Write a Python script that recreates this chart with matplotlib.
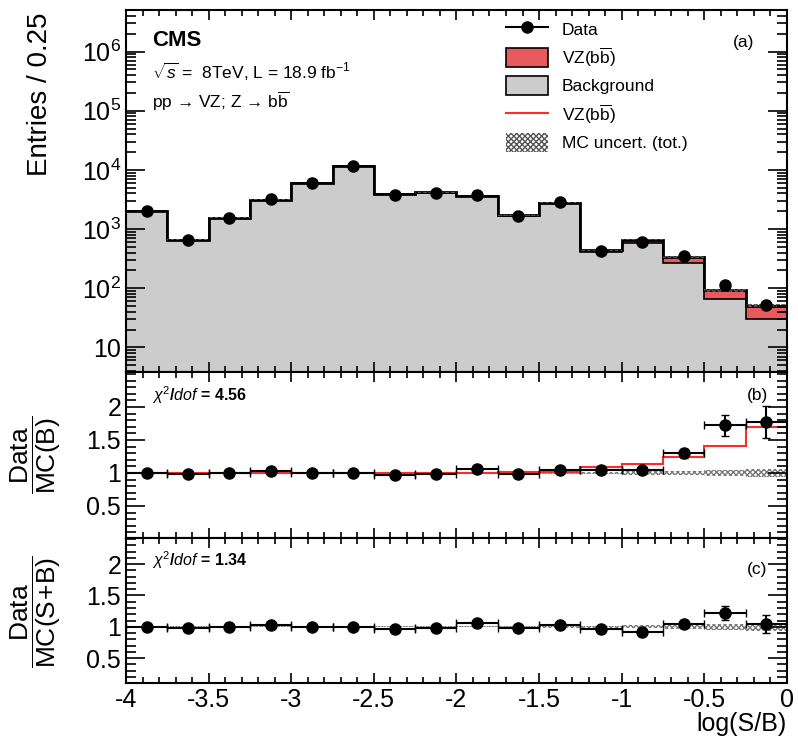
import numpy as np
import matplotlib
matplotlib.use("Agg")
import matplotlib.pyplot as plt
from matplotlib.lines import Line2D
from matplotlib.patches import Patch
from matplotlib.ticker import MultipleLocator, LogLocator, NullFormatter, FixedLocator

plt.rcParams['font.family'] = ['Liberation Sans', 'DejaVu Sans']
plt.rcParams['mathtext.fontset'] = 'custom'
plt.rcParams['mathtext.rm'] = 'Liberation Sans'
plt.rcParams['mathtext.it'] = 'Liberation Sans:italic'
plt.rcParams['mathtext.bf'] = 'Liberation Sans:bold'

# binning in log(S/B)
edges = np.arange(-4.0, 0.001, 0.25)
centers = 0.5 * (edges[:-1] + edges[1:])

# values
data = [2020, 650, 1550, 3240, 6000, 11700, 3800, 4100, 3800, 1660, 2880, 425, 605, 350, 112, 53]
background = [2020, 663, 1550, 3146, 6000, 11700, 3918, 4141, 3585, 1680, 2740, 405, 582, 270, 65, 30]
signal = [2, 1, 3, 8, 15, 35, 15, 20, 20, 17, 55, 36, 76, 65, 26.6, 21]
mc_unc = [0.01, 0.01, 0.01, 0.01, 0.01, 0.01, 0.01, 0.01, 0.01, 0.01, 0.015, 0.02, 0.025, 0.03, 0.045, 0.06]

chi2_b = "4.56"
chi2_c = "1.34"

data = np.array(data, float)
background = np.array(background, float)
signal = np.array(signal, float)
mc_unc = np.array(mc_unc)
total = background + signal
err = np.sqrt(data)

red_fill = "#e85a5e"
red_line = "#ff2a2a"
grey = "#cccccc"
bbar = r"b$\overline{\mathrm{b}}$"

fig = plt.figure(figsize=(7.98, 7.40), dpi=100)
ax = fig.add_axes([0.158, 0.497, 0.828, 0.4892])
axb = fig.add_axes([0.158, 0.273, 0.828, 0.2243], sharex=ax)
axc = fig.add_axes([0.158, 0.077, 0.828, 0.196], sharex=ax)

ymin = 3.8
# main panel: stacked background + signal
ax.stairs(background, edges, baseline=ymin, fill=True, color=grey, lw=0)
ax.stairs(total, edges, baseline=background, fill=True, color=red_fill, lw=0)
ax.stairs(background, edges, baseline=None, color="black", lw=1.2)
ax.stairs(total, edges, baseline=None, color="black", lw=2)
ax.stairs(total * (1 + mc_unc), edges, baseline=total * (1 - mc_unc), fill=True,
          facecolor="none", edgecolor="#555555", hatch="xxxxxx", lw=0)
ax.errorbar(centers, data, yerr=err, fmt="o", color="black", ms=8, lw=1.5, capsize=0)
ax.set_yscale("log")
ax.set_ylim(ymin, 5e6)
ax.set_xlim(-4, 0)
ax.yaxis.set_major_locator(LogLocator(base=10, numticks=10))
ax.yaxis.set_minor_locator(LogLocator(base=10, subs=np.arange(2, 10), numticks=20))
ax.yaxis.set_minor_formatter(NullFormatter())
ax.set_yticks([10, 100, 1e3, 1e4, 1e5, 1e6])
ax.set_yticklabels(["10", "$10^2$", "$10^3$", "$10^4$", "$10^5$", "$10^6$"])

ax.text(0.039, 0.917, "CMS", transform=ax.transAxes, fontsize=16, fontweight="bold", va="center")
ax.text(0.039, 0.829, r"$\sqrt{s}$ =  8TeV, L = 18.9 fb$^{-1}$", transform=ax.transAxes,
        fontsize=12.5, va="center")
ax.text(0.039, 0.749, "pp → VZ; Z → " + bbar, transform=ax.transAxes,
        fontsize=12.5, va="center")
ax.text(0.935, 0.912, "(a)", transform=ax.transAxes, fontsize=12.5, va="center", ha="center")

handles = [
    Line2D([], [], color="black", marker="o", ms=8, lw=1.5),
    Patch(facecolor=red_fill, edgecolor="black", lw=1.2),
    Patch(facecolor=grey, edgecolor="black", lw=1.2),
    Line2D([], [], color=red_line, lw=1.5),
    Patch(facecolor="white", edgecolor="#555555", hatch="xxxxxx", lw=0),
]
labels = ["Data", "VZ(" + bbar + ")", "Background", "VZ(" + bbar + ")", "MC uncert. (tot.)"]
ax.legend(handles, labels, loc="upper left", bbox_to_anchor=(0.575, 0.975), frameon=False,
          fontsize=12.5, handlelength=2.4, handleheight=1.3, labelspacing=0.42,
          handletextpad=0.8, borderaxespad=0, borderpad=0)

fig.text(40 / 798, 1 - 12 / 740, "Entries / 0.25", rotation=90, ha="center", va="top", fontsize=20)

# panel b: data / MC(B)
rb = data / background
axb.stairs(1 + mc_unc, edges, baseline=1 - mc_unc, fill=True, facecolor="none",
           edgecolor="#777777", hatch="xxxxxx", lw=0)
axb.stairs(total / background, edges, baseline=None, color=red_line, lw=1.5)
axb.errorbar(centers, rb, yerr=err / background, xerr=0.125, fmt="o", color="black",
             ms=8, lw=1.5, capsize=3)
axb.set_ylim(0.015, 2.53)
axb.text(0.039, 0.86, r"$\chi^2$/$\mathit{dof}$ = " + chi2_b, transform=axb.transAxes,
         fontsize=11.5, fontweight="bold", va="center")
axb.text(0.955, 0.86, "(b)", transform=axb.transAxes, fontsize=12.5, va="center", ha="center")

# panel c: data / MC(S+B)
rc = data / total
axc.stairs(1 + mc_unc, edges, baseline=1 - mc_unc, fill=True, facecolor="none",
           edgecolor="#777777", hatch="xxxxxx", lw=0)
axc.errorbar(centers, rc, yerr=err / total, xerr=0.125, fmt="o", color="black",
             ms=8, lw=1.5, capsize=3)
axc.set_ylim(0.1, 2.42)
axc.text(0.039, 0.85, r"$\chi^2$/$\mathit{dof}$ = " + chi2_c, transform=axc.transAxes,
         fontsize=11.5, fontweight="bold", va="center")
axc.text(0.955, 0.78, "(c)", transform=axc.transAxes, fontsize=12.5, va="center", ha="center")
axc.set_xlabel("log(S/B)", loc="right", fontsize=18, labelpad=0)

fig.text(36 / 798, 1 - 455 / 740, r"$\dfrac{\mathrm{Data}}{\mathrm{MC(B)}}$", rotation=90,
         ha="center", va="center", fontsize=19)
fig.text(36 / 798, 1 - 612 / 740, r"$\dfrac{\mathrm{Data}}{\mathrm{MC(S\!+\!B)}}$", rotation=90,
         ha="center", va="center", fontsize=19)

for a in (axb, axc):
    a.yaxis.set_major_locator(FixedLocator([0.5, 1, 1.5, 2]))
    a.set_yticklabels(["0.5", "1", "1.5", "2"])
    a.yaxis.set_minor_locator(MultipleLocator(0.1))

for a in (ax, axb, axc):
    a.xaxis.set_major_locator(MultipleLocator(0.5))
    a.xaxis.set_minor_locator(MultipleLocator(0.1))
    a.tick_params(which="both", direction="in", top=True, right=True, labelsize=18, width=1.2)
    a.tick_params(axis="y", which="major", length=14)
    a.tick_params(axis="y", which="minor", length=7)
    a.tick_params(axis="x", which="major", length=7)
    a.tick_params(axis="x", which="minor", length=4)
    for s in a.spines.values():
        s.set_linewidth(1.5)
for a in (ax, axb):
    a.tick_params(labelbottom=False)
axc.set_xticks(np.arange(-4, 0.01, 0.5))
axc.set_xticklabels(["-4", "-3.5", "-3", "-2.5", "-2", "-1.5", "-1", "-0.5", "0"])
axc.set_xlim(-4, 0)

fig.savefig("out.png", dpi=100)
